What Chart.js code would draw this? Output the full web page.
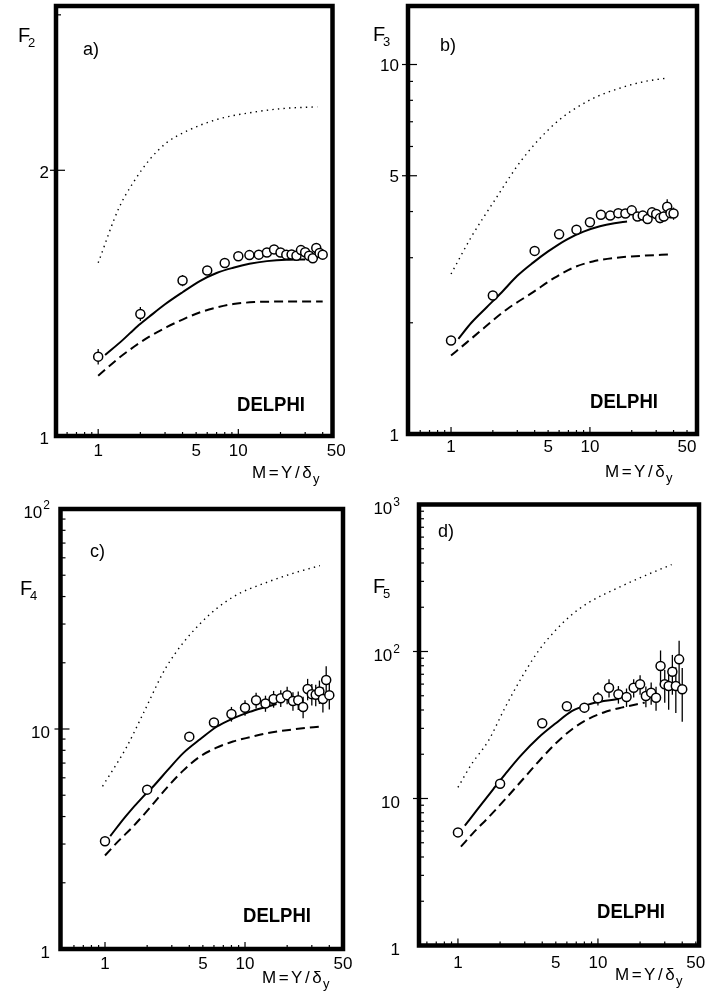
<!DOCTYPE html>
<html><head><meta charset="utf-8">
<script src="https://cdn.jsdelivr.net/npm/chart.js@4.4.1/dist/chart.umd.min.js"></script>
<style>
html,body{margin:0;padding:0;background:#fff;}
#wrap{position:relative;width:719px;height:1005px;overflow:hidden;background:#fff;}
canvas{position:absolute;}
</style></head><body>
<div id="wrap">
<canvas id="pa" width="360" height="487" style="left:0;top:0"></canvas>
<canvas id="pb" width="359" height="487" style="left:360px;top:0"></canvas>
<canvas id="pc" width="360" height="518" style="left:0;top:487px"></canvas>
<canvas id="pd" width="359" height="518" style="left:360px;top:487px"></canvas>
</div>
<script>
// ---------------- DATA ----------------
const M = [1,2,4,6,8,10,12,14,16,18,20,22,24,26,28,30,32,34,36,38,40];
const xTicks = [1,5,10,50];

// a) F2
const F2     = [1.23,1.375,1.50,1.54,1.57,1.598,1.603,1.605,1.614,1.627,1.614,1.605,1.606,1.600,1.624,1.615,1.600,1.590,1.633,1.612,1.605];
const F2_err = [0.025,0.025,0.022,0,0,0,0,0,0,0,0,0,0,0,0,0,0,0,0,0,0];
const F2_solid_x  = [1.12,1.5,1.9,2.3,3,4,5.35,7,9.2,12,16,22,30];
const F2_solid_y  = [1.235,1.285,1.331,1.364,1.41,1.455,1.499,1.53,1.551,1.567,1.578,1.584,1.585];
const F2_dashed_x = [1,1.4,1.8,2.3,3.1,4,5.35,7,9.2,13,20,40];
const F2_dashed_y = [1.17,1.225,1.262,1.295,1.329,1.355,1.381,1.398,1.411,1.418,1.42,1.42];
const F2_dotted_x = [1,1.4,1.79,2.35,3.09,4.3,7,12.1,21,36.6];
const F2_dotted_y = [1.571,1.81,1.94,2.06,2.15,2.216,2.283,2.324,2.35,2.36];
const F2_yTicks = [1,2];

// b) F3
const F3     = [1.79,2.37,3.13,3.47,3.57,3.74,3.92,3.90,3.96,3.95,4.03,3.88,3.90,3.82,3.98,3.94,3.84,3.88,4.12,3.96,3.95];
const F3_err = [0,0,0,0,0,0,0,0,0,0,0,0,0,0,0.1,0.1,0.12,0.12,0.2,0.12,0.15];
const F3_solid_x  = [1.13,1.4,1.8,2.32,3,3.9,5,6.8,9,11.8,15,18.5];
const F3_solid_y  = [1.81,2.0,2.2,2.42,2.68,2.91,3.12,3.36,3.53,3.65,3.72,3.76];
const F3_dashed_x = [1,1.3,1.71,2.5,3.9,5.5,7.6,10.5,15.5,25,37.6];
const F3_dashed_y = [1.63,1.77,1.93,2.17,2.42,2.64,2.82,2.93,3.0,3.04,3.06];
const F3_dotted_x = [1,1.41,2.07,3.22,5.6,9.7,16.9,25,36.6];
const F3_dotted_y = [2.71,3.43,4.3,5.51,6.92,7.97,8.66,9.0,9.2];
const F3_yTicks = [1,5,10];

// c) F4
const F4     = [3.09,5.3,9.23,10.7,11.7,12.5,13.5,13.07,13.7,13.8,14.25,13.4,13.5,12.6,15.2,14.4,14.3,14.8,13.7,16.7,14.25];
const F4_err = [0,0,0,0,0.9,1.0,1.1,1.1,1.2,1.2,1.3,1.3,1.3,1.4,1.7,1.6,1.6,1.8,1.8,2.6,2.0];
const F4_solid_x  = [1.09,1.4,1.88,2.21,2.8,3.62,4.8,6.27,8.3,10.8,13.5,16.8];
const F4_solid_y  = [3.26,4.0,4.94,5.48,6.5,7.77,9.0,10.24,11.2,11.96,12.5,13.0];
const F4_dashed_x = [1.0,1.25,1.59,2.1,2.75,3.6,4.77,6.2,8.2,11,14.3,22,36.3];
const F4_dashed_y = [2.66,3.1,3.61,4.4,5.39,6.45,7.5,8.2,8.77,9.2,9.57,9.95,10.3];
const F4_dotted_x = [0.96,1.43,1.88,2.75,4.77,8.2,14.3,22,34.3];
const F4_dotted_y = [5.49,8.3,11.8,19.2,30.1,39.8,46.4,51,55.3];
const F4_yTicks = [1,10,100];

// d) F5
const F5     = [5.88,12.6,32.5,42.4,41.5,48,56.7,51.2,49,56.7,59.8,49.8,52.5,48.5,79.6,59.8,58.2,72.8,58.2,88.4,55.3];
const F5_err = [0,0,1.5,2,3,5,8,7,7,8,9,8,9,9,22,15,18,22,20,30,22];
const F5_solid_x  = [1.12,1.4,1.79,2.17,2.8,3.75,5,6.5,8.5,11,14];
const F5_solid_y  = [6.53,8.6,11.6,14.6,19.5,25.9,32.5,39.3,43.5,46,47.5];
const F5_dashed_x = [1.05,1.3,1.65,2.2,2.85,3.8,4.93,6.5,8.5,11,14.7,21.6];
const F5_dashed_y = [4.7,5.9,7.43,10,13.2,18,23.4,29.5,34.7,38.5,41.5,44.9];
const F5_dotted_x = [1,1.25,1.65,2.17,2.85,3.75,4.93,6.5,8.5,14.7,22,33.6];
const F5_dotted_y = [11.9,17.1,24.7,41.5,66.5,100.6,138,178,214,278,330,390];
const F5_yTicks = [1,10,100,1000];

// ---------------- LAYOUT ----------------
const FONT = '"Liberation Sans", Arial, sans-serif';
const PANELS = [
 {id:'pa', ox:0, oy:0, w:360, h:487, frame:{l:56,t:3,r:332.5,b:436}, xr:[0.5,47], yr:[1,3.07],
  pts:F2, err:F2_err, solid:[F2_solid_x,F2_solid_y], dashed:[F2_dashed_x,F2_dashed_y], dotted:[F2_dotted_x,F2_dotted_y],
  yTicks:F2_yTicks, yLabR:49, yLabDy:3, xLabDy:15, sub:'2', title:{x:18,y:42}, tag:{t:'a)',x:83,y:55},
  delphi:{x:237,y:411}, mlab:{x:252,y:478}},
 {id:'pb', ox:360, oy:0, w:359, h:487, frame:{l:408,t:1.5,r:697,b:434}, xr:[0.49,59], yr:[1,14.4],
  pts:F3, err:F3_err, solid:[F3_solid_x,F3_solid_y], dashed:[F3_dashed_x,F3_dashed_y], dotted:[F3_dotted_x,F3_dotted_y],
  yTicks:F3_yTicks, yLabR:399, yLabDy:2, xLabDy:13, sub:'3', title:{x:373,y:41}, tag:{t:'b)',x:440,y:51},
  delphi:{x:590,y:408}, mlab:{x:605,y:477}},
 {id:'pc', ox:0, oy:487, w:360, h:518, frame:{l:60.5,t:509,r:343,b:949}, xr:[0.481,50.1], yr:[1,100],
  pts:F4, err:F4_err, solid:[F4_solid_x,F4_solid_y], dashed:[F4_dashed_x,F4_dashed_y], dotted:[F4_dotted_x,F4_dotted_y],
  yTicks:F4_yTicks, yLabR:50, yLabDy:4, xLabDy:15, sub:'4', title:{x:20,y:595}, tag:{t:'c)',x:90,y:557},
  delphi:{x:243,y:922}, mlab:{x:262,y:983}},
 {id:'pd', ox:360, oy:487, w:359, h:518, frame:{l:419,t:504.5,r:699,b:945.5}, xr:[0.527,52.7], yr:[1,1000],
  pts:F5, err:F5_err, solid:[F5_solid_x,F5_solid_y], dashed:[F5_dashed_x,F5_dashed_y], dotted:[F5_dotted_x,F5_dotted_y],
  yTicks:F5_yTicks, yLabR:400, yLabDy:5, xLabDy:18, sub:'5', title:{x:373,y:593}, tag:{t:'d)',x:438,y:537},
  delphi:{x:597,y:918}, mlab:{x:615,y:980}}
];

function logTicks(min,max){
  const out=[];
  for(let e=Math.floor(Math.log10(min))-1;e<=Math.ceil(Math.log10(max));e++){
    for(let k=1;k<10;k++){const v=k*Math.pow(10,e); if(v>=min*0.999&&v<=max*1.001) out.push({v,major:k===1});}
  }
  return out;
}
function lineDS(xs,ys,w,dash){
  return {data:xs.map((x,i)=>({x,y:ys[i]})), showLine:true, pointRadius:0, borderColor:'#000',
    borderWidth:w, borderDash:dash, cubicInterpolationMode:'monotone', fill:false, order:1, borderCapStyle:'butt'};
}
function deco(P){
  return {
    id:'deco_'+P.id,
    beforeDatasetsDraw(chart){
      const ctx=chart.ctx, xs=chart.scales.x, ys=chart.scales.y;
      ctx.save(); ctx.strokeStyle='#000'; ctx.lineWidth=1.3;
      M.forEach((m,i)=>{
        const e=P.err[i]; if(!e) return;
        const px=xs.getPixelForValue(m);
        ctx.beginPath();
        ctx.moveTo(px, ys.getPixelForValue(P.pts[i]+e));
        ctx.lineTo(px, ys.getPixelForValue(Math.max(P.pts[i]-e,0.001)));
        ctx.stroke();
      });
      ctx.restore();
    },
    afterDraw(chart){
      const ctx=chart.ctx, xs=chart.scales.x, ys=chart.scales.y, a=chart.chartArea;
      const ox=P.ox, oy=P.oy;
      ctx.save();
      ctx.strokeStyle='#000'; ctx.fillStyle='#000';
      // ticks
      ctx.lineWidth=1.2;
      logTicks(P.yr[0],P.yr[1]).forEach(t=>{
        const py=ys.getPixelForValue(t.v);
        if(py>a.bottom-3||py<a.top+3) return;
        const major=t.major||P.yTicks.includes(t.v);
        ctx.beginPath(); ctx.moveTo(a.left,py); ctx.lineTo(a.left+(major?9:5),py); ctx.stroke();
        if(P.yTicks.includes(t.v)){ctx.beginPath(); ctx.moveTo(a.left-6,py); ctx.lineTo(a.left,py); ctx.stroke();}
      });
      logTicks(P.xr[0],P.xr[1]).forEach(t=>{
        const px=xs.getPixelForValue(t.v);
        if(px<a.left+3||px>a.right-3) return;
        ctx.beginPath(); ctx.moveTo(px,a.bottom); ctx.lineTo(px,a.bottom-(t.major?7:4)); ctx.stroke();
      });
      // frame
      ctx.lineWidth=4.5;
      ctx.strokeRect(a.left,a.top,a.right-a.left,a.bottom-a.top);
      // x tick labels
      ctx.font='17px '+FONT; ctx.textAlign='center'; ctx.textBaseline='middle';
      xTicks.forEach(v=>{ ctx.fillText(String(v), xs.getPixelForValue(v), a.bottom+P.xLabDy); });
      // y tick labels
      P.yTicks.forEach(v=>{
        const py=ys.getPixelForValue(v)+P.yLabDy;
        ctx.textBaseline='middle';
        if(v>=100){
          const ex=String(Math.round(Math.log10(v)));
          ctx.font='17px '+FONT; const wb=ctx.measureText('10').width;
          ctx.font='12px '+FONT; const ws=ctx.measureText(ex).width;
          const left=P.yLabR-ox-(wb+ws+1);
          ctx.textAlign='left';
          ctx.font='17px '+FONT; ctx.fillText('10',left,py);
          ctx.font='12px '+FONT; ctx.fillText(ex,left+wb+1,py-7);
        } else {
          ctx.font='17px '+FONT; ctx.textAlign='right';
          ctx.fillText(String(v),P.yLabR-ox,py);
        }
      });
      ctx.textBaseline='alphabetic'; ctx.textAlign='left';
      // axis title F_n
      ctx.font='20px '+FONT; ctx.fillText('F',P.title.x-ox,P.title.y-oy);
      ctx.font='13px '+FONT; ctx.fillText(P.sub,P.title.x-ox+10,P.title.y-oy+5);
      // panel tag
      ctx.font='18px '+FONT; ctx.fillText(P.tag.t,P.tag.x-ox,P.tag.y-oy);
      // DELPHI
      ctx.font='bold 21px '+FONT;
      const dw=ctx.measureText('DELPHI').width;
      ctx.save(); ctx.translate(P.delphi.x-ox,P.delphi.y-oy); ctx.scale(68/dw,1);
      ctx.fillText('DELPHI',0,0); ctx.restore();
      // M = Y/δy
      ctx.font='17px '+FONT;
      let x=P.mlab.x-ox; const y=P.mlab.y-oy;
      ['M','=','Y','/','δ'].forEach(ch=>{ ctx.fillText(ch,x,y); x+=ctx.measureText(ch).width+2.5; });
      ctx.font='13px '+FONT; ctx.fillText('y',x-1,y+5);
      ctx.restore();
    }
  };
}

PANELS.forEach(P=>{
  const f=P.frame;
  new Chart(document.getElementById(P.id),{
    type:'line',
    data:{datasets:[
      {data:M.map((x,i)=>({x,y:P.pts[i]})), showLine:false, pointRadius:4.5, pointBorderWidth:1.5,
       pointBackgroundColor:'#fff', pointBorderColor:'#000', pointStyle:'circle', order:0},
      lineDS(P.solid[0],P.solid[1],2,[]),
      lineDS(P.dashed[0],P.dashed[1],2,[9,5]),
      lineDS(P.dotted[0],P.dotted[1],1.4,[1.4,4.2])
    ]},
    options:{
      responsive:false, animation:false, devicePixelRatio:1, events:[],
      layout:{padding:{left:f.l-P.ox, top:f.t-P.oy, right:P.ox+P.w-f.r, bottom:P.oy+P.h-f.b}},
      scales:{
        x:{type:'logarithmic', min:P.xr[0], max:P.xr[1], display:false},
        y:{type:'logarithmic', min:P.yr[0], max:P.yr[1], display:false}
      },
      plugins:{legend:{display:false}, tooltip:{enabled:false}}
    },
    plugins:[deco(P)]
  });
});
</script>
</body></html>
